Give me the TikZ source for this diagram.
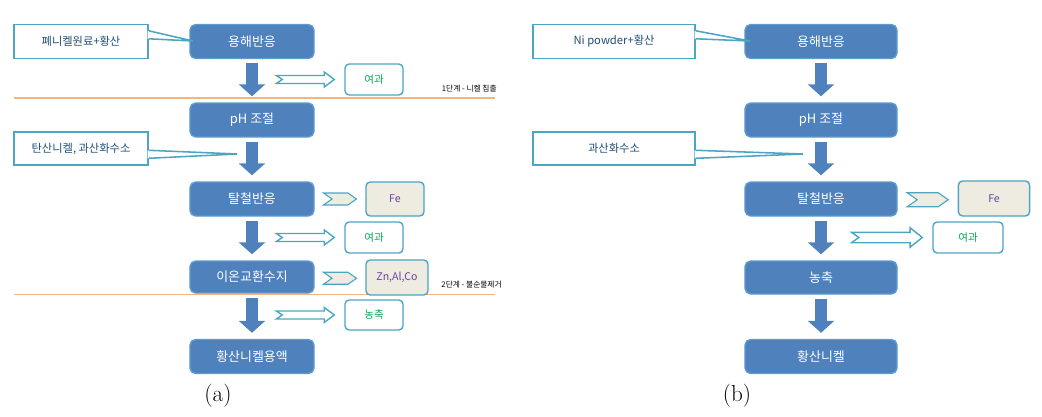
\documentclass[tikz,border=0pt]{standalone}
\usepackage{fontspec}
\newfontfamily\kr{Noto Sans CJK KR}
\usetikzlibrary{arrows.meta,calc,shapes.symbols}

\definecolor{procblue}{HTML}{4F81BD}
\definecolor{procedge}{HTML}{5E9BD0}
\definecolor{noteedge}{HTML}{4BA5C3}
\definecolor{notetext}{HTML}{1F4E79}
\definecolor{resgreen}{HTML}{00A650}
\definecolor{beige}{HTML}{EEECE1}
\definecolor{wastepurple}{HTML}{6B3FA0}
\definecolor{stageorange}{HTML}{F5B57E}

\begin{document}
\begin{tikzpicture}[x=0.025cm, y=-0.025cm,
    % boxes
    proc/.style={draw=procedge, line width=1pt, fill=procblue, rounded corners=4pt,
      text=white, font=\kr\fontsize{9.2}{11}\selectfont,
      minimum width=3.1cm, minimum height=0.85cm, inner sep=0pt},
    note/.style={draw=noteedge, line width=1pt, fill=white, text=notetext,
      font=\kr\fontsize{8}{9}\selectfont, minimum height=0.85cm, inner sep=0pt},
    result/.style={draw=noteedge, line width=1pt, fill=white, rounded corners=3pt,
      text=resgreen, font=\kr\fontsize{7.5}{9}\selectfont,
      minimum width=1.45cm, minimum height=0.775cm, inner sep=0pt},
    waste/.style={result, fill=beige, text=wastepurple},
    % arrows
    flow/.style={draw=procblue, line width=0.3cm,
      -{Triangle[length=0.3cm,width=0.65cm]}, shorten <=0.1cm, shorten >=0.15cm},
    chevron/.style={signal, signal from=west, signal to=east, signal pointer angle=70,
      draw=noteedge, line width=0.8pt, fill=beige, inner sep=0pt},
    tail/.style={draw=noteedge, line width=1.1pt},
    stage/.style={draw=stageorange, line width=1.3pt},
    stagelabel/.style={font=\kr\fontsize{5.5}{6}\selectfont, anchor=east, inner sep=0pt},
    caption/.style={font=\fontsize{16.5}{19}\selectfont},
    pics/hollowarr/.style={code={
      \draw[draw=noteedge, line width=1pt, fill=white]
        (0,0) -- (-10,7.5) -- (-10,4) -- (-58,4) -- (-52,0) -- (-58,-4)
        -- (-10,-4) -- (-10,-7.5) -- cycle;}},
]
    \useasboundingbox (0,0) rectangle (1042,416);

    % Stage lines (a)
    \draw[stage] (14,98) coordinate (l1a) -- (495,98) coordinate (l1b);
    \draw[stage] (14,294.5) coordinate (l2a) -- (495,294.5) coordinate (l2b);
    \node[stagelabel] (st1) at (497,89) {1단계 - 니켈 침출};
    \node[stagelabel] (st2) at (502,285) {2단계 - 불순물제거};

    % (a) process
    \node[proc] (a1) at (252,41.5) {용해반응};
    \node[proc] (a2) at (252,120)  {pH 조절};
    \node[proc] (a3) at (252,199)  {탈철반응};
    \node[proc, minimum height=0.8cm] (a4) at (252,277) {이온교환수지};
    \node[proc] (a5) at (252,356.5) {황산니켈용액};

    \node[note, minimum width=3.35cm] (c1) at (81,41.5) {폐니켈원료+황산};
    \node[note, minimum width=3.35cm, minimum height=0.825cm] (c2) at (81,148.5) {탄산니켈, 과산화수소};

    \node[result] (r1) at (374,79.5) {여과};
    \node[waste, minimum height=0.85cm] (fe1) at (395,199) {Fe};
    \node[result] (r2) at (374,237.5) {여과};
    \node[waste, minimum width=1.55cm, minimum height=0.875cm] (z1) at (397,277.5) {Zn,Al,Co};
    \node[result, minimum height=0.75cm] (r3) at (374,315) {농축};

    \draw[flow] (a1) -- (a2);
    \draw[flow] (a2) -- (a3);
    \draw[flow] (a3) -- (a4);
    \draw[flow] (a4) -- (a5);

    \node[chevron, minimum width=0.825cm, minimum height=0.3cm] (s1) at ($(a3.east)!0.5!(fe1.west)$) {};
    \node[chevron, minimum width=0.825cm, minimum height=0.3cm] (s2) at ($(a4.east)!0.5!(z1.west)+(0,1)$) {};

    \pic at ($(r1.west)+(-10,0)$) {hollowarr};
    \pic at ($(r2.west)+(-10,0)$) {hollowarr};
    \pic at ($(r3.west)+(-10,0)$) {hollowarr};

    % (a) callout tails
    \coordinate (t1) at (193,41);
    \coordinate (t2) at (237,154);
    \fill[white] ($(c1.north east)+(-1,7)$) -- (t1) -- ($(c1.north east)+(-1,15)$) -- cycle;
    \draw[tail] ($(c1.north east)+(0,7)$) -- (t1) -- ($(c1.north east)+(0,15)$);
    \fill[white] ($(c2.north east)+(-1,19)$) -- (t2) -- ($(c2.north east)+(-1,27)$) -- cycle;
    \draw[tail] ($(c2.north east)+(0,19)$) -- (t2) -- ($(c2.north east)+(0,27)$);

    \node[caption] (capa) at (218,396) {(a)};

    % (b) process
    \node[proc, minimum width=3.8cm] (b1) at (821,41.5) {용해반응};
    \node[proc, minimum width=3.8cm] (b2) at (821,120)  {pH 조절};
    \node[proc, minimum width=3.8cm] (b3) at (821,199)  {탈철반응};
    \node[proc, minimum width=3.8cm, minimum height=0.825cm] (b4) at (821,277.5) {농축};
    \node[proc, minimum width=3.8cm] (b5) at (821,356.5) {황산니켈};

    \node[note, minimum width=4.05cm] (c3) at (614,41.5) {Ni powder+황산};
    \node[note, minimum width=4.05cm, minimum height=0.825cm] (c4) at (614,148.5) {과산화수소};

    \node[waste, minimum width=1.78cm, minimum height=0.875cm] (fe2) at (994,198.5) {Fe};
    \node[result, minimum width=1.75cm] (r4) at (968,237.5) {여과};

    \draw[flow] (b1) -- (b2);
    \draw[flow] (b2) -- (b3);
    \draw[flow] (b3) -- (b4);
    \draw[flow] (b4) -- (b5);

    \node[chevron, minimum width=1.025cm, minimum height=0.35cm] (s3) at ($(b3.east)!0.5!(fe2.west)+(0,1)$) {};

    \pic[xscale=1.22, yscale=1.3] at ($(r4.west)+(-10,0)$) {hollowarr};

    % (b) callout tails
    \coordinate (t3) at (750,41);
    \coordinate (t4) at (803,154);
    \fill[white] ($(c3.north east)+(-1,7)$) -- (t3) -- ($(c3.north east)+(-1,15)$) -- cycle;
    \draw[tail] ($(c3.north east)+(0,7)$) -- (t3) -- ($(c3.north east)+(0,15)$);
    \fill[white] ($(c4.north east)+(-1,19)$) -- (t4) -- ($(c4.north east)+(-1,27)$) -- cycle;
    \draw[tail] ($(c4.north east)+(0,19)$) -- (t4) -- ($(c4.north east)+(0,27)$);

    \node[caption] (capb) at (737,396) {(b)};
\end{tikzpicture}
\end{document}
